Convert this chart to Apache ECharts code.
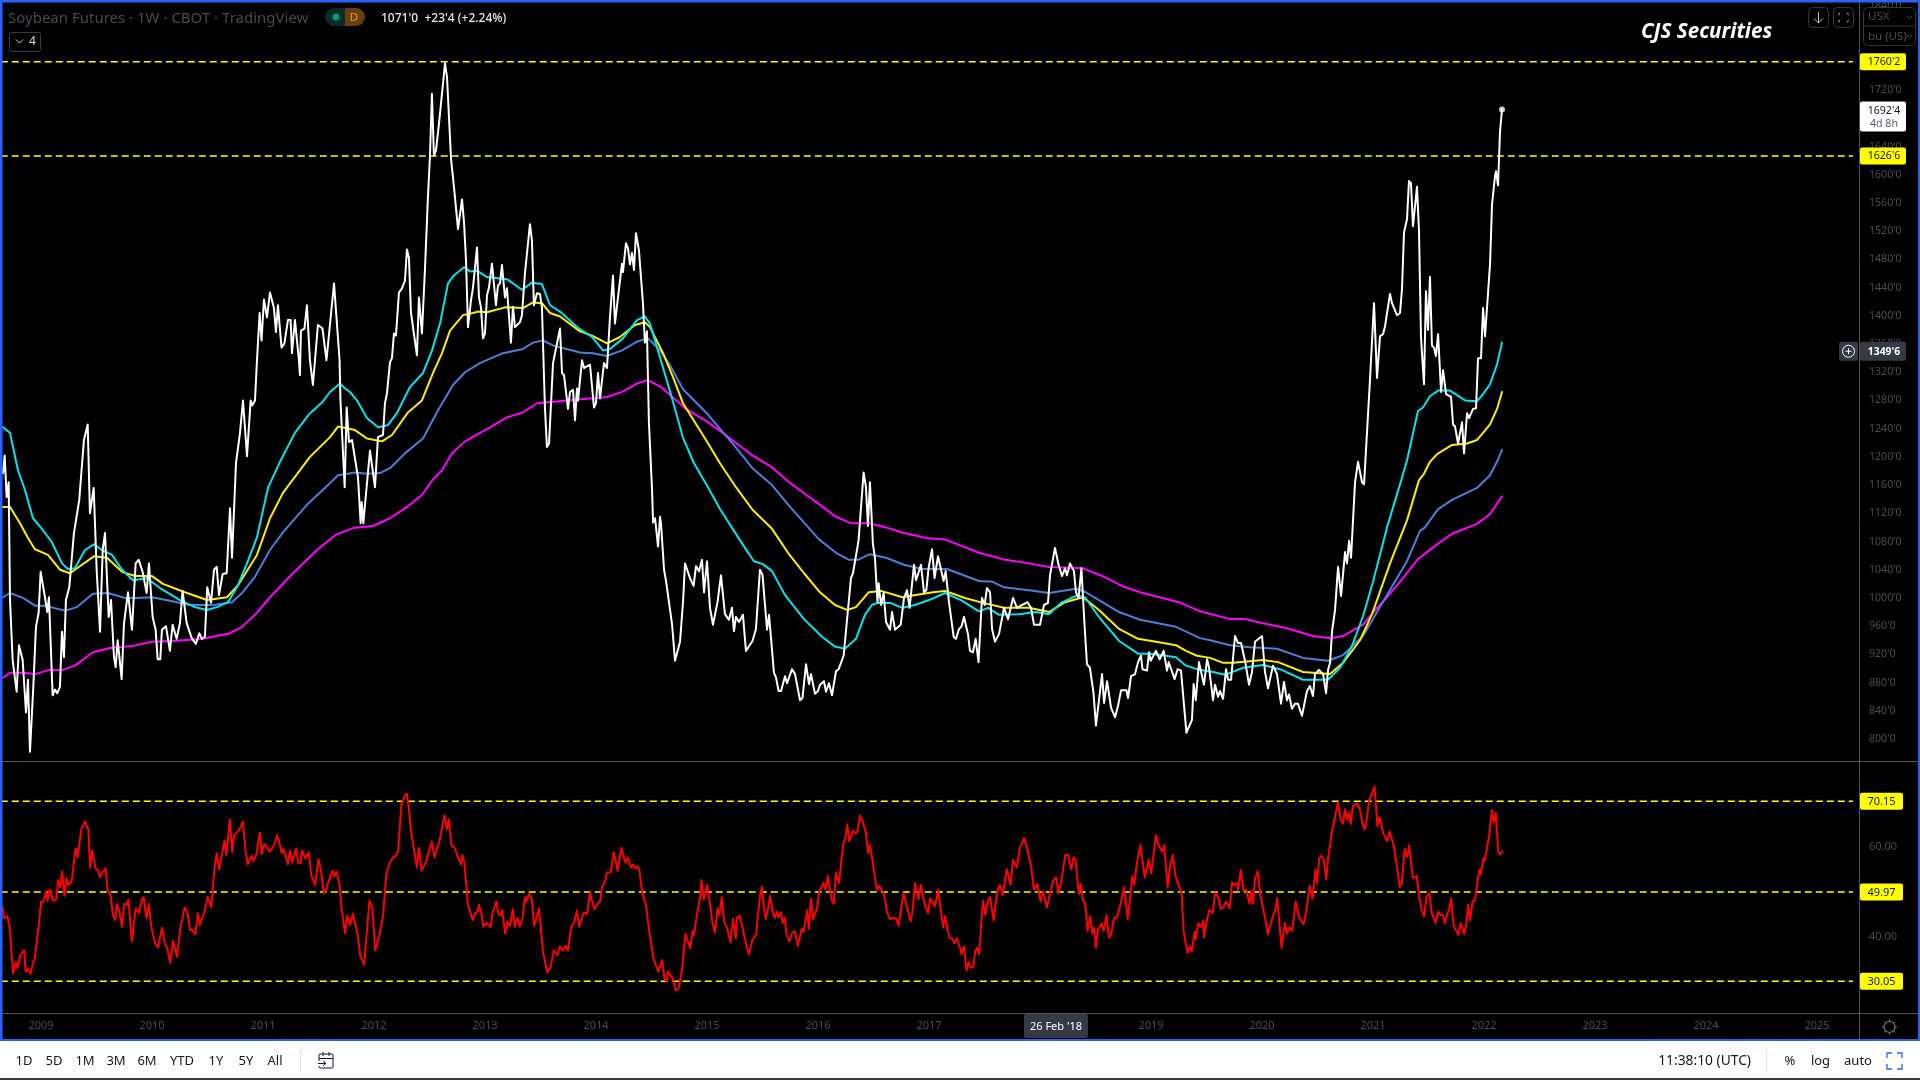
<!DOCTYPE html>
<html><head><meta charset="utf-8"><title>Soybean Futures</title>
<style>html,body{margin:0;padding:0;background:#000;overflow:hidden}#c{width:1920px;height:1080px}</style>
<script src="https://cdn.jsdelivr.net/npm/echarts@6/dist/echarts.min.js"></script></head><body><div id="c"></div>
<script>
const yearTicks=[2009,2010,2011,2012,2013,2014,2015,2016,2017,2018,2019,2020,2021,2022,2023,2024,2025];
const priceTicks=[800,840,880,920,960,1000,1040,1080,1120,1160,1200,1240,1280,1320,1360,1400,1440,1480,1520,1560,1600,1640,1680,1720,1760,1800,1840];
const rsiTicks=[40,60];
const priceLevels=[1760.25,1626.75];
const rsiLevels=[70.15,49.97,30.05];
const close=[[2008.658,1177],[2008.673,1202],[2008.691,1143],[2008.709,1164],[2008.721,997],[2008.745,912],[2008.781,867],[2008.802,933],[2008.835,912],[2008.865,838],[2008.883,884],[2008.901,782],[2008.931,874],[2008.955,959],[2008.979,979],[2008.997,1037],[2009.036,1001],[2009.057,980],[2009.072,1001],[2009.105,862],[2009.126,870],[2009.147,865],[2009.171,874],[2009.189,952],[2009.207,916],[2009.225,997],[2009.255,1015],[2009.297,1092],[2009.345,1139],[2009.387,1224],[2009.421,1246],[2009.441,1120],[2009.475,1156],[2009.502,1039],[2009.532,952],[2009.556,1068],[2009.577,1092],[2009.610,973],[2009.631,997],[2009.658,916],[2009.673,902],[2009.691,940],[2009.727,885],[2009.748,964],[2009.784,1008],[2009.820,955],[2009.853,1049],[2009.880,1054],[2009.916,1037],[2009.952,1007],[2009.973,1049],[2010.006,973],[2010.033,955],[2010.051,913],[2010.075,913],[2010.090,955],[2010.126,960],[2010.162,925],[2010.186,962],[2010.222,942],[2010.252,964],[2010.276,1010],[2010.313,964],[2010.358,943],[2010.396,935],[2010.426,950],[2010.450,942],[2010.477,945],[2010.498,1015],[2010.532,993],[2010.559,1040],[2010.583,1044],[2010.604,1004],[2010.637,1034],[2010.673,1035],[2010.703,1127],[2010.721,1057],[2010.757,1191],[2010.793,1234],[2010.820,1280],[2010.856,1201],[2010.889,1280],[2010.904,1273],[2010.928,1280],[2010.946,1337],[2010.970,1404],[2010.987,1365],[2011.009,1423],[2011.036,1398],[2011.063,1433],[2011.099,1411],[2011.117,1377],[2011.135,1415],[2011.167,1355],[2011.193,1361],[2011.225,1394],[2011.249,1394],[2011.261,1347],[2011.288,1394],[2011.297,1396],[2011.324,1337],[2011.333,1316],[2011.342,1379],[2011.374,1382],[2011.396,1415],[2011.423,1337],[2011.450,1302],[2011.495,1387],[2011.536,1382],[2011.572,1337],[2011.640,1446],[2011.690,1337],[2011.698,1280],[2011.736,1157],[2011.754,1270],[2011.775,1221],[2011.802,1224],[2011.856,1171],[2011.880,1106],[2011.889,1136],[2011.904,1106],[2011.964,1209],[2012.009,1157],[2012.036,1228],[2012.054,1227],[2012.081,1231],[2012.099,1276],[2012.117,1290],[2012.144,1334],[2012.162,1340],[2012.180,1375],[2012.198,1372],[2012.225,1433],[2012.252,1439],[2012.279,1450],[2012.297,1494],[2012.315,1482],[2012.333,1405],[2012.351,1405],[2012.387,1344],[2012.405,1426],[2012.432,1375],[2012.459,1465],[2012.486,1568],[2012.504,1625],[2012.522,1715],[2012.540,1627],[2012.558,1634],[2012.586,1673],[2012.595,1674],[2012.640,1758],[2012.658,1738],[2012.676,1738],[2012.694,1623],[2012.721,1582],[2012.757,1523],[2012.793,1565],[2012.811,1533],[2012.829,1479],[2012.847,1384],[2012.874,1422],[2012.892,1440],[2012.928,1497],[2012.946,1426],[2012.964,1412],[2012.982,1368],[2013.000,1375],[2013.018,1429],[2013.036,1440],[2013.063,1474],[2013.099,1415],[2013.117,1443],[2013.135,1446],[2013.153,1472],[2013.180,1426],[2013.198,1439],[2013.234,1362],[2013.252,1413],[2013.270,1384],[2013.288,1382],[2013.315,1391],[2013.333,1401],[2013.360,1460],[2013.405,1530],[2013.423,1507],[2013.441,1415],[2013.468,1432],[2013.495,1431],[2013.513,1412],[2013.540,1270],[2013.558,1214],[2013.577,1219],[2013.613,1333],[2013.640,1354],[2013.676,1382],[2013.694,1319],[2013.712,1316],[2013.748,1268],[2013.766,1292],[2013.793,1295],[2013.811,1252],[2013.829,1297],[2013.838,1280],[2013.874,1337],[2013.892,1326],[2013.946,1331],[2013.982,1270],[2014.000,1276],[2014.018,1319],[2014.036,1283],[2014.054,1283],[2014.072,1333],[2014.099,1326],[2014.126,1398],[2014.153,1457],[2014.171,1389],[2014.234,1474],[2014.243,1462],[2014.270,1503],[2014.288,1496],[2014.306,1473],[2014.324,1489],[2014.342,1465],[2014.360,1517],[2014.387,1493],[2014.423,1418],[2014.441,1362],[2014.459,1378],[2014.477,1248],[2014.505,1153],[2014.514,1107],[2014.532,1113],[2014.559,1073],[2014.577,1115],[2014.586,1105],[2014.613,1040],[2014.631,1024],[2014.649,1023],[2014.685,963],[2014.712,911],[2014.730,913],[2014.757,938],[2014.784,994],[2014.802,1049],[2014.847,1028],[2014.879,1017],[2014.901,1045],[2014.928,1038],[2014.955,1054],[2014.973,1008],[2015.000,1052],[2015.027,986],[2015.054,962],[2015.095,994],[2015.126,1032],[2015.162,977],[2015.198,969],[2015.225,986],[2015.243,953],[2015.261,973],[2015.288,966],[2015.324,976],[2015.351,925],[2015.410,939],[2015.441,956],[2015.477,1040],[2015.500,1033],[2015.541,955],[2015.559,976],[2015.603,894],[2015.622,887],[2015.645,868],[2015.667,868],[2015.703,889],[2015.721,879],[2015.766,899],[2015.793,892],[2015.838,855],[2015.860,858],[2015.892,906],[2015.919,878],[2015.937,892],[2015.973,864],[2016.000,868],[2016.018,877],[2016.054,882],[2016.072,867],[2016.099,879],[2016.126,862],[2016.162,896],[2016.186,899],[2016.231,918],[2016.243,918],[2016.297,1028],[2016.315,1035],[2016.365,1081],[2016.411,1178],[2016.432,1157],[2016.450,1102],[2016.468,1164],[2016.495,1076],[2016.513,1057],[2016.536,994],[2016.546,1021],[2016.568,990],[2016.591,1007],[2016.613,966],[2016.649,955],[2016.667,980],[2016.694,955],[2016.745,962],[2016.775,1000],[2016.802,1011],[2016.825,986],[2016.865,1047],[2016.883,1025],[2016.928,1047],[2016.955,1008],[2016.976,1011],[2016.996,1042],[2017.027,1069],[2017.050,1028],[2017.081,1059],[2017.131,1024],[2017.150,1038],[2017.180,994],[2017.222,945],[2017.243,942],[2017.270,956],[2017.292,959],[2017.315,973],[2017.351,949],[2017.369,925],[2017.396,923],[2017.420,942],[2017.446,909],[2017.477,1000],[2017.501,990],[2017.522,1014],[2017.550,1008],[2017.568,956],[2017.595,938],[2017.631,949],[2017.676,986],[2017.712,970],[2017.757,1000],[2017.793,986],[2017.838,990],[2017.887,994],[2017.919,986],[2017.946,962],[2017.964,963],[2018.000,962],[2018.036,990],[2018.072,993],[2018.090,1032],[2018.135,1071],[2018.167,1047],[2018.198,1031],[2018.225,1042],[2018.243,1032],[2018.270,1049],[2018.306,1038],[2018.324,1008],[2018.347,1000],[2018.373,1042],[2018.401,962],[2018.423,906],[2018.450,901],[2018.482,865],[2018.504,819],[2018.559,892],[2018.577,851],[2018.604,882],[2018.640,844],[2018.676,831],[2018.703,847],[2018.730,869],[2018.779,869],[2018.793,858],[2018.820,889],[2018.856,892],[2018.883,909],[2018.910,918],[2018.923,899],[2018.964,897],[2018.982,923],[2018.997,911],[2019.045,925],[2019.078,913],[2019.114,925],[2019.144,897],[2019.159,909],[2019.213,885],[2019.239,899],[2019.270,897],[2019.319,809],[2019.369,827],[2019.384,878],[2019.403,855],[2019.432,909],[2019.477,877],[2019.505,913],[2019.523,901],[2019.559,855],[2019.577,877],[2019.604,860],[2019.622,868],[2019.649,857],[2019.676,899],[2019.694,884],[2019.721,884],[2019.757,946],[2019.784,936],[2019.811,936],[2019.847,911],[2019.883,877],[2019.910,895],[2019.937,938],[2020.000,946],[2020.027,895],[2020.054,872],[2020.099,904],[2020.135,892],[2020.171,850],[2020.198,881],[2020.225,855],[2020.243,863],[2020.270,843],[2020.297,850],[2020.324,850],[2020.360,833],[2020.405,868],[2020.432,875],[2020.459,861],[2020.477,892],[2020.513,898],[2020.550,892],[2020.577,865],[2020.595,898],[2020.613,908],[2020.631,953],[2020.658,983],[2020.685,1044],[2020.712,1003],[2020.748,1065],[2020.766,1049],[2020.784,1081],[2020.802,1057],[2020.838,1164],[2020.865,1193],[2020.883,1193],[2020.901,1164],[2020.919,1161],[2020.973,1310],[2021.009,1418],[2021.036,1312],[2021.063,1371],[2021.090,1374],[2021.108,1385],[2021.153,1431],[2021.171,1418],[2021.189,1418],[2021.216,1401],[2021.243,1404],[2021.261,1438],[2021.279,1518],[2021.306,1537],[2021.324,1591],[2021.342,1588],[2021.360,1527],[2021.378,1528],[2021.396,1583],[2021.414,1521],[2021.432,1371],[2021.441,1347],[2021.459,1303],[2021.477,1435],[2021.495,1380],[2021.513,1455],[2021.531,1358],[2021.549,1355],[2021.567,1343],[2021.586,1374],[2021.613,1292],[2021.631,1323],[2021.658,1289],[2021.703,1285],[2021.721,1246],[2021.739,1243],[2021.766,1219],[2021.802,1249],[2021.820,1205],[2021.847,1262],[2021.865,1255],[2021.901,1268],[2021.928,1269],[2021.946,1340],[2021.973,1340],[2021.991,1411],[2022.009,1371],[2022.054,1473],[2022.072,1558],[2022.099,1598],[2022.108,1605],[2022.126,1585],[2022.144,1661],[2022.162,1692.5]];
const maCyan=[[2008.658,1242],[2008.721,1234],[2008.793,1181],[2008.856,1153],[2008.928,1113],[2009.018,1096],[2009.099,1079],[2009.189,1049],[2009.243,1041],[2009.306,1042],[2009.396,1068],[2009.477,1076],[2009.550,1068],[2009.640,1061],[2009.730,1040],[2009.829,1025],[2009.955,1028],[2010.072,1014],[2010.252,997],[2010.387,987],[2010.495,983],[2010.586,987],[2010.685,994],[2010.775,1018],[2010.856,1049],[2010.946,1086],[2011.045,1156],[2011.153,1193],[2011.288,1234],[2011.423,1262],[2011.532,1277],[2011.604,1292],[2011.694,1304],[2011.739,1297],[2011.784,1292],[2011.847,1280],[2011.937,1255],[2012.036,1242],[2012.126,1245],[2012.207,1262],[2012.324,1299],[2012.442,1319],[2012.523,1351],[2012.595,1389],[2012.667,1446],[2012.712,1456],[2012.811,1469],[2012.865,1463],[2012.928,1464],[2013.018,1455],[2013.198,1452],[2013.333,1437],[2013.423,1447],[2013.513,1445],[2013.586,1415],[2013.676,1406],[2013.829,1384],[2013.964,1370],[2014.063,1351],[2014.126,1353],[2014.243,1368],[2014.369,1394],[2014.441,1399],[2014.486,1389],[2014.577,1341],[2014.685,1283],[2014.784,1227],[2014.883,1191],[2015.009,1157],[2015.117,1126],[2015.252,1093],[2015.342,1071],[2015.423,1052],[2015.504,1048],[2015.586,1038],[2015.703,1004],[2015.874,970],[2016.036,945],[2016.153,931],[2016.243,928],[2016.342,942],[2016.423,976],[2016.486,990],[2016.536,993],[2016.649,993],[2016.761,986],[2016.874,990],[2017.000,997],[2017.144,1007],[2017.288,997],[2017.450,981],[2017.532,986],[2017.631,976],[2017.811,977],[2017.964,980],[2018.081,977],[2018.189,993],[2018.324,1003],[2018.405,1001],[2018.531,973],[2018.712,939],[2018.883,921],[2019.000,921],[2019.225,916],[2019.315,904],[2019.414,899],[2019.559,895],[2019.667,891],[2019.829,901],[2020.009,905],[2020.162,899],[2020.369,884],[2020.595,884],[2020.703,901],[2020.811,932],[2020.910,974],[2021.000,1023],[2021.126,1100],[2021.243,1161],[2021.306,1195],[2021.405,1265],[2021.450,1270],[2021.513,1286],[2021.586,1294],[2021.694,1294],[2021.829,1280],[2021.937,1279],[2021.991,1289],[2022.054,1303],[2022.117,1331],[2022.162,1362]];
const maYellow=[[2008.658,1129],[2008.721,1129],[2008.811,1106],[2008.883,1085],[2008.946,1069],[2009.063,1061],[2009.171,1040],[2009.261,1035],[2009.369,1047],[2009.477,1059],[2009.595,1057],[2009.730,1037],[2009.847,1031],[2010.000,1031],[2010.099,1020],[2010.297,1008],[2010.495,997],[2010.676,1001],[2010.775,1018],[2010.946,1061],[2011.063,1113],[2011.180,1149],[2011.423,1200],[2011.604,1228],[2011.676,1243],[2011.829,1238],[2011.937,1226],[2012.072,1222],[2012.162,1231],[2012.306,1263],[2012.432,1280],[2012.532,1319],[2012.613,1347],[2012.685,1379],[2012.802,1401],[2012.892,1404],[2012.937,1406],[2013.018,1405],[2013.180,1412],[2013.342,1411],[2013.432,1419],[2013.513,1418],[2013.586,1404],[2013.676,1399],[2013.856,1378],[2013.964,1372],[2014.099,1361],[2014.216,1370],[2014.351,1387],[2014.441,1391],[2014.486,1384],[2014.604,1347],[2014.694,1313],[2014.784,1276],[2014.991,1224],[2015.117,1191],[2015.261,1157],[2015.410,1125],[2015.586,1098],[2015.730,1064],[2015.874,1035],[2016.018,1008],[2016.153,990],[2016.261,983],[2016.342,987],[2016.456,1008],[2016.568,1010],[2016.761,1001],[2016.838,1003],[2017.036,1008],[2017.144,1010],[2017.324,1000],[2017.486,993],[2017.676,986],[2017.901,986],[2018.081,980],[2018.225,994],[2018.387,1001],[2018.531,983],[2018.712,956],[2018.883,942],[2019.045,938],[2019.225,933],[2019.315,925],[2019.414,918],[2019.532,915],[2019.649,908],[2019.739,908],[2020.009,912],[2020.144,909],[2020.369,895],[2020.613,892],[2020.730,908],[2020.883,940],[2020.991,977],[2021.153,1049],[2021.306,1110],[2021.414,1167],[2021.459,1176],[2021.513,1193],[2021.577,1204],[2021.712,1217],[2021.847,1219],[2021.937,1224],[2021.991,1234],[2022.054,1246],[2022.117,1268],[2022.162,1292]];
const maBlue=[[2008.658,1001],[2008.721,1007],[2008.838,1000],[2008.946,989],[2009.036,989],[2009.216,982],[2009.324,987],[2009.468,1006],[2009.604,1007],[2009.757,1000],[2009.847,1000],[2010.000,1001],[2010.162,996],[2010.342,990],[2010.550,990],[2010.721,994],[2010.811,1007],[2010.928,1030],[2011.063,1068],[2011.180,1093],[2011.396,1132],[2011.586,1160],[2011.676,1174],[2011.829,1178],[2011.937,1176],[2012.054,1177],[2012.144,1184],[2012.279,1205],[2012.441,1226],[2012.577,1266],[2012.712,1302],[2012.820,1320],[2012.955,1333],[2013.162,1347],[2013.342,1353],[2013.432,1362],[2013.523,1365],[2013.613,1358],[2013.856,1348],[2013.973,1347],[2014.099,1343],[2014.234,1351],[2014.378,1364],[2014.468,1368],[2014.577,1351],[2014.667,1330],[2014.784,1296],[2015.009,1260],[2015.252,1215],[2015.410,1184],[2015.586,1160],[2015.748,1129],[2016.009,1083],[2016.162,1064],[2016.279,1054],[2016.360,1054],[2016.468,1062],[2016.613,1057],[2016.775,1047],[2016.937,1041],[2017.162,1041],[2017.450,1024],[2017.568,1023],[2017.676,1015],[2017.901,1011],[2018.081,1007],[2018.324,1013],[2018.414,1008],[2018.712,980],[2018.901,969],[2019.225,959],[2019.441,943],[2019.532,940],[2019.712,933],[2019.892,930],[2020.135,928],[2020.369,915],[2020.595,911],[2020.730,919],[2020.910,946],[2021.126,1004],[2021.306,1052],[2021.423,1095],[2021.468,1100],[2021.586,1126],[2021.712,1139],[2021.937,1156],[2022.054,1174],[2022.117,1193],[2022.162,1210]];
const maMagenta=[[2008.658,887],[2008.721,894],[2008.838,894],[2008.946,892],[2009.081,898],[2009.198,898],[2009.306,904],[2009.468,923],[2009.622,929],[2009.829,932],[2010.000,938],[2010.189,939],[2010.459,942],[2010.703,950],[2010.811,959],[2010.946,979],[2011.063,1001],[2011.270,1035],[2011.486,1068],[2011.649,1089],[2011.811,1099],[2011.991,1102],[2012.144,1113],[2012.297,1129],[2012.432,1146],[2012.532,1168],[2012.613,1181],[2012.703,1205],[2012.820,1222],[2013.045,1242],[2013.198,1256],[2013.342,1263],[2013.468,1276],[2013.739,1280],[2014.099,1285],[2014.234,1292],[2014.369,1304],[2014.468,1309],[2014.586,1299],[2014.811,1268],[2014.991,1251],[2015.185,1229],[2015.410,1202],[2015.586,1185],[2015.748,1163],[2016.018,1132],[2016.162,1115],[2016.297,1106],[2016.459,1106],[2016.613,1100],[2016.775,1092],[2016.973,1085],[2017.144,1083],[2017.450,1064],[2017.662,1055],[2017.901,1049],[2018.081,1044],[2018.387,1042],[2018.577,1030],[2018.739,1017],[2018.901,1008],[2019.252,994],[2019.441,981],[2019.712,970],[2019.847,970],[2020.009,964],[2020.225,957],[2020.459,946],[2020.613,943],[2020.730,946],[2020.910,962],[2021.036,986],[2021.126,1001],[2021.270,1028],[2021.405,1055],[2021.486,1065],[2021.577,1076],[2021.712,1091],[2021.937,1105],[2022.054,1119],[2022.162,1144]];
const rsi=[[2008.658,46.5],[2008.666,44.1],[2008.697,44.6],[2008.718,42.2],[2008.749,31.8],[2008.775,34.4],[2008.788,33.0],[2008.814,35.9],[2008.849,37.0],[2008.862,32.2],[2008.884,32.8],[2008.906,31.7],[2008.928,34.1],[2008.945,35.2],[2008.980,42.6],[2009.002,47.8],[2009.024,47.8],[2009.046,50.0],[2009.059,48.0],[2009.076,50.5],[2009.111,48.0],[2009.138,48.3],[2009.155,52.6],[2009.173,51.0],[2009.190,54.5],[2009.212,49.1],[2009.229,53.0],[2009.247,51.5],[2009.277,52.3],[2009.295,52.3],[2009.312,59.7],[2009.330,57.7],[2009.365,64.1],[2009.395,65.6],[2009.426,64.1],[2009.443,55.4],[2009.461,59.2],[2009.491,55.2],[2009.513,54.9],[2009.531,53.2],[2009.557,54.5],[2009.583,55.2],[2009.600,50.4],[2009.627,49.3],[2009.648,44.8],[2009.670,43.7],[2009.683,47.3],[2009.710,45.2],[2009.731,42.2],[2009.749,47.3],[2009.775,47.1],[2009.788,48.3],[2009.819,38.9],[2009.854,46.3],[2009.884,45.2],[2009.906,48.2],[2009.924,48.8],[2009.950,44.1],[2009.972,47.3],[2009.993,42.2],[2010.028,38.5],[2010.055,37.6],[2010.090,42.0],[2010.116,38.5],[2010.138,37.4],[2010.164,34.2],[2010.190,39.1],[2010.225,35.5],[2010.255,41.9],[2010.295,46.5],[2010.321,45.2],[2010.343,41.5],[2010.365,41.5],[2010.391,40.5],[2010.413,45.2],[2010.430,42.6],[2010.448,42.4],[2010.474,45.6],[2010.500,48.9],[2010.518,49.1],[2010.535,46.5],[2010.561,54.9],[2010.583,58.6],[2010.605,55.0],[2010.653,61.4],[2010.670,58.2],[2010.701,66.1],[2010.723,58.9],[2010.740,62.6],[2010.771,63.4],[2010.793,64.1],[2010.810,63.8],[2010.819,65.6],[2010.845,58.9],[2010.863,56.1],[2010.876,56.1],[2010.897,58.0],[2010.915,56.9],[2010.937,58.0],[2010.954,58.2],[2010.972,63.2],[2010.989,58.4],[2011.011,60.6],[2011.033,60.2],[2011.059,58.9],[2011.103,60.4],[2011.125,62.6],[2011.142,61.5],[2011.168,58.6],[2011.186,59.5],[2011.225,56.1],[2011.242,59.2],[2011.264,56.5],[2011.299,59.7],[2011.317,56.5],[2011.339,56.3],[2011.352,59.2],[2011.382,57.4],[2011.413,58.8],[2011.435,53.7],[2011.470,51.5],[2011.500,57.3],[2011.526,54.1],[2011.548,49.7],[2011.566,50.4],[2011.592,52.3],[2011.609,51.9],[2011.627,54.7],[2011.644,53.4],[2011.662,54.5],[2011.688,51.9],[2011.710,45.9],[2011.740,40.7],[2011.758,44.7],[2011.784,42.6],[2011.810,45.1],[2011.854,40.4],[2011.876,35.7],[2011.893,35.7],[2011.911,33.8],[2011.959,48.0],[2011.985,46.3],[2012.011,36.9],[2012.046,40.0],[2012.081,44.5],[2012.112,54.1],[2012.147,56.7],[2012.177,57.8],[2012.199,58.0],[2012.216,58.9],[2012.247,69.3],[2012.273,71.2],[2012.295,71.9],[2012.312,69.0],[2012.334,63.4],[2012.356,60.1],[2012.387,55.4],[2012.404,59.8],[2012.430,54.7],[2012.470,56.7],[2012.491,58.6],[2012.505,58.4],[2012.522,61.2],[2012.544,57.7],[2012.561,57.3],[2012.592,61.5],[2012.635,67.0],[2012.657,63.9],[2012.675,66.1],[2012.697,60.4],[2012.727,59.7],[2012.762,57.4],[2012.784,56.1],[2012.797,58.2],[2012.815,56.3],[2012.845,47.4],[2012.889,43.7],[2012.911,45.2],[2012.933,45.6],[2012.946,47.1],[2012.972,44.8],[2012.985,42.2],[2013.011,43.1],[2013.051,42.1],[2013.068,45.2],[2013.085,45.6],[2013.103,47.8],[2013.120,45.1],[2013.142,44.7],[2013.155,45.9],[2013.181,40.7],[2013.203,43.3],[2013.225,42.4],[2013.251,46.1],[2013.269,42.2],[2013.291,44.1],[2013.312,42.2],[2013.339,44.1],[2013.360,48.8],[2013.373,47.8],[2013.395,49.5],[2013.421,48.5],[2013.443,42.4],[2013.487,46.3],[2013.522,36.7],[2013.561,32.0],[2013.592,33.2],[2013.618,36.9],[2013.653,35.9],[2013.675,37.8],[2013.705,36.9],[2013.727,37.9],[2013.749,36.9],[2013.775,42.0],[2013.801,43.0],[2013.828,45.8],[2013.850,42.2],[2013.863,42.6],[2013.889,45.4],[2013.920,45.1],[2013.946,49.8],[2013.963,49.5],[2013.985,46.1],[2014.015,47.4],[2014.037,47.8],[2014.055,51.1],[2014.081,52.3],[2014.098,54.3],[2014.133,54.3],[2014.160,58.8],[2014.195,54.7],[2014.229,59.8],[2014.265,56.5],[2014.286,57.6],[2014.313,55.4],[2014.334,56.0],[2014.352,55.2],[2014.374,55.7],[2014.391,54.9],[2014.417,49.7],[2014.448,47.3],[2014.465,47.1],[2014.483,40.7],[2014.518,35.2],[2014.535,35.0],[2014.561,32.2],[2014.596,34.8],[2014.618,30.6],[2014.635,30.0],[2014.649,32.2],[2014.692,30.6],[2014.719,28.0],[2014.745,28.6],[2014.775,32.6],[2014.788,33.0],[2014.806,40.6],[2014.823,40.7],[2014.849,37.4],[2014.871,41.3],[2014.884,40.4],[2014.911,45.2],[2014.937,48.5],[2014.950,52.6],[2014.972,48.3],[2015.002,51.5],[2015.024,47.8],[2015.050,43.0],[2015.072,40.9],[2015.094,46.3],[2015.111,44.7],[2015.133,48.8],[2015.155,43.3],[2015.181,41.9],[2015.195,42.2],[2015.212,38.7],[2015.234,43.9],[2015.260,39.6],[2015.269,44.1],[2015.291,44.7],[2015.312,42.8],[2015.330,43.0],[2015.365,37.0],[2015.378,36.1],[2015.409,39.3],[2015.443,40.4],[2015.461,45.2],[2015.478,49.3],[2015.495,51.1],[2015.512,46.7],[2015.529,43.9],[2015.551,46.3],[2015.569,49.1],[2015.591,45.6],[2015.608,44.2],[2015.630,45.6],[2015.643,44.3],[2015.665,45.4],[2015.682,43.0],[2015.700,44.3],[2015.717,40.4],[2015.743,38.9],[2015.765,40.7],[2015.791,41.3],[2015.818,37.9],[2015.853,41.7],[2015.870,41.1],[2015.901,45.8],[2015.918,41.7],[2015.936,48.5],[2015.957,43.9],[2015.975,44.1],[2015.992,46.3],[2016.010,49.8],[2016.049,52.0],[2016.067,50.5],[2016.088,53.5],[2016.106,53.1],[2016.123,48.2],[2016.141,47.3],[2016.163,54.3],[2016.189,51.9],[2016.228,60.8],[2016.246,61.9],[2016.263,65.0],[2016.281,61.3],[2016.298,61.5],[2016.315,63.6],[2016.342,63.0],[2016.359,63.6],[2016.377,67.0],[2016.403,65.6],[2016.429,63.4],[2016.451,58.7],[2016.468,60.4],[2016.490,57.1],[2016.516,52.6],[2016.534,50.4],[2016.551,51.3],[2016.586,50.0],[2016.604,48.2],[2016.621,45.6],[2016.647,43.9],[2016.682,44.2],[2016.708,43.9],[2016.726,42.4],[2016.743,42.6],[2016.770,49.7],[2016.800,46.7],[2016.835,43.4],[2016.853,45.9],[2016.874,51.9],[2016.905,48.3],[2016.927,51.5],[2016.962,47.1],[2016.992,45.2],[2017.010,48.5],[2017.027,48.5],[2017.053,46.7],[2017.084,50.4],[2017.106,45.9],[2017.128,42.0],[2017.145,44.6],[2017.171,41.1],[2017.189,39.6],[2017.211,39.6],[2017.228,38.5],[2017.250,39.6],[2017.276,37.8],[2017.294,36.1],[2017.316,37.8],[2017.337,32.4],[2017.355,34.3],[2017.372,33.2],[2017.399,33.2],[2017.416,36.7],[2017.433,37.5],[2017.451,36.1],[2017.486,48.0],[2017.508,44.8],[2017.530,48.0],[2017.551,48.8],[2017.582,43.6],[2017.617,50.4],[2017.639,51.5],[2017.665,49.3],[2017.700,55.0],[2017.735,51.5],[2017.757,57.1],[2017.791,55.4],[2017.818,59.7],[2017.857,61.9],[2017.888,59.3],[2017.923,55.2],[2017.944,50.5],[2017.975,51.7],[2018.005,47.8],[2018.027,50.2],[2018.062,46.5],[2018.088,49.3],[2018.119,52.4],[2018.145,53.2],[2018.167,49.7],[2018.193,52.6],[2018.228,58.2],[2018.254,58.2],[2018.281,55.0],[2018.302,57.7],[2018.320,57.1],[2018.350,49.5],[2018.368,51.7],[2018.385,48.2],[2018.407,47.4],[2018.429,41.3],[2018.451,44.5],[2018.473,40.7],[2018.486,42.0],[2018.503,37.5],[2018.521,41.5],[2018.538,41.5],[2018.556,43.0],[2018.573,41.3],[2018.599,44.8],[2018.621,39.8],[2018.639,40.4],[2018.669,44.3],[2018.691,44.1],[2018.717,46.3],[2018.735,46.7],[2018.757,51.0],[2018.791,43.9],[2018.831,53.4],[2018.848,51.5],[2018.875,56.7],[2018.905,60.4],[2018.944,53.2],[2018.979,57.1],[2019.001,54.1],[2019.045,62.6],[2019.067,60.4],[2019.102,58.9],[2019.119,60.4],[2019.150,50.9],[2019.176,56.3],[2019.198,58.2],[2019.219,53.7],[2019.241,52.1],[2019.259,52.1],[2019.276,49.7],[2019.294,41.1],[2019.329,36.4],[2019.351,37.9],[2019.368,36.7],[2019.394,41.1],[2019.403,39.4],[2019.425,43.0],[2019.451,42.2],[2019.473,43.6],[2019.477,39.8],[2019.504,43.7],[2019.525,45.9],[2019.556,45.3],[2019.578,49.7],[2019.604,48.9],[2019.630,46.1],[2019.652,46.5],[2019.674,47.8],[2019.709,46.3],[2019.730,52.1],[2019.752,51.5],[2019.779,51.9],[2019.783,50.4],[2019.809,54.9],[2019.831,50.4],[2019.857,50.4],[2019.888,47.4],[2019.901,50.2],[2019.918,47.3],[2019.936,52.8],[2019.962,54.6],[2019.984,49.3],[2020.028,44.1],[2020.054,40.5],[2020.071,40.5],[2020.097,44.5],[2020.119,45.9],[2020.137,48.5],[2020.176,37.5],[2020.206,43.1],[2020.224,40.7],[2020.250,42.1],[2020.272,41.3],[2020.303,47.8],[2020.320,48.0],[2020.338,44.1],[2020.355,43.9],[2020.377,42.8],[2020.407,47.1],[2020.429,51.3],[2020.455,48.5],[2020.481,55.0],[2020.495,51.9],[2020.516,57.5],[2020.534,58.0],[2020.556,57.2],[2020.578,52.8],[2020.595,57.3],[2020.613,57.3],[2020.630,63.4],[2020.648,63.8],[2020.683,69.9],[2020.709,66.0],[2020.730,65.2],[2020.748,68.4],[2020.765,66.1],[2020.783,67.6],[2020.800,65.1],[2020.818,69.0],[2020.835,68.6],[2020.857,69.7],[2020.883,68.2],[2020.905,65.2],[2020.923,63.9],[2020.936,64.9],[2020.966,70.4],[2020.979,70.8],[2021.014,73.4],[2021.040,64.6],[2021.058,66.6],[2021.093,63.0],[2021.110,63.0],[2021.128,61.3],[2021.150,63.4],[2021.185,60.4],[2021.211,56.3],[2021.241,51.1],[2021.259,51.7],[2021.285,59.5],[2021.307,57.8],[2021.324,60.3],[2021.359,53.1],[2021.394,53.5],[2021.416,48.9],[2021.434,46.5],[2021.460,44.5],[2021.481,48.8],[2021.508,49.7],[2021.530,45.1],[2021.565,43.1],[2021.587,45.6],[2021.608,44.8],[2021.630,44.8],[2021.648,43.0],[2021.669,45.2],[2021.683,45.8],[2021.704,48.5],[2021.726,42.4],[2021.744,42.4],[2021.770,40.4],[2021.788,43.0],[2021.801,43.3],[2021.822,40.6],[2021.840,42.6],[2021.857,47.1],[2021.875,43.6],[2021.897,48.0],[2021.918,48.0],[2021.944,52.8],[2021.958,54.9],[2021.971,53.9],[2021.993,57.4],[2022.006,56.9],[2022.049,62.8],[2022.071,68.2],[2022.088,65.4],[2022.106,67.6],[2022.128,58.9],[2022.145,58.4],[2022.167,59.0]];
const lastClose=[2022.162,1692.5];
const xStart=2008.658, xEnd=2025.378, levelEnd=2025.324;

const FONT='"Noto Sans"', DIM='#4d4d4d', SEP='#555555', BLUE='#2962ff';
const chart=echarts.init(document.getElementById('c'),null,{renderer:'canvas',width:1920,height:1080});

function lineSeries(name,data,color,width,xi,z){
  return {name,type:'line',xAxisIndex:xi,yAxisIndex:xi,data,symbol:'none',smooth:false,z,silent:true,animation:false,
    lineStyle:{color,width,join:'round',cap:'round'}};
}
function levelSeries(v,xi){
  return {type:'line',xAxisIndex:xi,yAxisIndex:xi,data:[[xStart-0.02,v],[levelEnd,v]],symbol:'none',z:1,silent:true,animation:false,
    lineStyle:{color:'#ffff00',width:1.5,type:[7,4]}};
}
const option={
  backgroundColor:'#000',animation:false,
  grid:[{left:3,top:3,width:1856,height:758},{left:3,top:761,width:1856,height:252}],
  xAxis:[
    {type:'value',gridIndex:0,min:xStart,max:xEnd,axisLine:{show:false},axisTick:{show:false},axisLabel:{show:false},splitLine:{show:false}},
    {type:'value',gridIndex:1,min:xStart,max:xEnd,axisLine:{show:false},axisTick:{show:false},splitLine:{show:false},
     axisLabel:{customValues:yearTicks,formatter:v=>String(Math.round(v)),color:DIM,fontFamily:FONT,fontSize:11,margin:7,hideOverlap:false}}
  ],
  yAxis:[
    {type:'value',gridIndex:0,position:'right',min:768.8,max:1842.6,axisLine:{show:false},axisTick:{show:false},splitLine:{show:false},
     axisLabel:{customValues:priceTicks,formatter:v=>Math.round(v)+"'0",color:DIM,fontFamily:FONT,fontSize:10.6,margin:10,hideOverlap:false}},
    {type:'value',gridIndex:1,position:'right',min:22.99,max:79.13,axisLine:{show:false},axisTick:{show:false},splitLine:{show:false},
     axisLabel:{customValues:rsiTicks,formatter:v=>v.toFixed(2),color:DIM,fontFamily:FONT,fontSize:11,margin:10}}
  ],
  series:[
    ...priceLevels.map(v=>levelSeries(v,0)),
    ...rsiLevels.map(v=>levelSeries(v,1)),
    lineSeries('EMA magenta',maMagenta,'#ff00ff',2,0,2),
    lineSeries('EMA blue',maBlue,'#4a80dc',2,0,3),
    lineSeries('EMA yellow',maYellow,'#ffee00',2,0,4),
    lineSeries('EMA cyan',maCyan,'#00e5ee',2,0,5),
    lineSeries('Close',close,'#ffffff',2,0,6),
    {type:'scatter',xAxisIndex:0,yAxisIndex:0,data:[lastClose],symbolSize:6,itemStyle:{color:'#fff'},z:7,silent:true},
    lineSeries('RSI',rsi,'#ff0000',2,1,6)
  ]
};
chart.setOption(option);

const rect=(x,y,w,h,fill,extra)=>Object.assign({type:'rect',shape:{x,y,width:w,height:h},style:{fill},z:100,silent:true},extra||{});
const rrect=(x,y,w,h,r,fill,stroke)=>({type:'rect',shape:{x,y,width:w,height:h,r},style:{fill:fill||'transparent',stroke:stroke||null,lineWidth:1},z:100,silent:true});
const text=(x,y,t,fill,size,opt)=>({type:'text',x,y,z:102,silent:true,style:Object.assign({text:t,fill,fontFamily:FONT,fontSize:size,textAlign:'left',textVerticalAlign:'middle'},opt||{})});
const ln=(x1,y1,x2,y2,c,w)=>({type:'line',shape:{x1,y1,x2,y2},style:{stroke:c,lineWidth:w||1},z:101,silent:true});
const py=(v,i)=>chart.convertToPixel({yAxisIndex:i},v);
const px=v=>chart.convertToPixel({xAxisIndex:0},v);

const els=[];
els.push(ln(2,761.5,1918,761.5,SEP),ln(2,1013.5,1918,1013.5,SEP),ln(1859.5,2,1859.5,1039,SEP));
[[priceLevels[0],"1760'2",0,46],[priceLevels[1],"1626'6",0,46],[rsiLevels[0],'70.15',1,43],[rsiLevels[1],'49.97',1,43],[rsiLevels[2],'30.05',1,43]].forEach(([v,t,i,w])=>{
  const y=py(v,i);
  els.push(rrect(1860,y-8.5,w,17,2,'#ffff00'));
  els.push(text(1860+w/2+(i?0:1),y+0.5,t,'#131722',i?11:10.6,{textAlign:'center'}));
});
const ly=py(lastClose[1],0);
els.push(rrect(1860,ly-8,46,30,2,'#ffffff'));
els.push(text(1884,ly+1,"1692'4",'#131722',10.6,{textAlign:'center'}));
els.push(text(1884,ly+14,'4d 8h','#5d606b',10.6,{textAlign:'center'}));
const cy=py(1349.75,0);
els.push(rrect(1839,cy-9.5,19,19,2,'#363a45'));
els.push({type:'circle',shape:{cx:1848.5,cy:cy,r:6},style:{fill:'transparent',stroke:'#fff',lineWidth:1},z:103,silent:true});
els.push(ln(1845.5,cy,1851.5,cy,'#fff'),ln(1848.5,cy-3,1848.5,cy+3,'#fff'));
els.push(rrect(1860,cy-9.5,46,19,2,'#363a45'));
els.push(text(1884,cy+1,"1349'6",'#ffffff',10.4,{textAlign:'center',fontWeight:'bold'}));
const dx=px(2018.144);
els.push(rrect(dx-32,1014,64,24,2,'#363a45'));
els.push(text(dx,1026.5,"26 Feb '18",'#ffffff',11,{textAlign:'center'}));
els.push(text(8,18.5,'Soybean Futures · 1W · CBOT · TradingView','#4a4a4a',15));
els.push(rrect(325,8,40,18,9,'#0b2b28'));
els.push({type:'rect',shape:{x:345,y:8,width:20,height:18,r:[0,9,9,0]},style:{fill:'#66400c'},z:100,silent:true});
els.push({type:'circle',shape:{cx:336,cy:17,r:3.5},style:{fill:'#089981'},z:101,silent:true});
els.push(text(354,17.5,'D','#ff9800',11.5,{textAlign:'center'}));
els.push(text(381,18.5,"1071'0  +23'4 (+2.24%)",'#e8e8e8',12,{fontWeight:500}));
els.push(rrect(9.5,32.5,31,19,2,'transparent','#3c3c3c'));
els.push({type:'polyline',shape:{points:[[16,39.5],[19.5,43],[23,39.5]]},style:{stroke:'#d0d0d0',fill:null,lineWidth:1},z:101,silent:true});
els.push(text(29,42,'4','#d8d8d8',12));
els.push(text(1641,32.5,'CJS Securities','#ffffff',20.6,{fontWeight:'bold',fontStyle:'italic'}));
els.push(rrect(1808.5,7.5,20,20,4,'transparent','#363636'));
els.push(ln(1818.5,12,1818.5,23,'#c4c4c4'));
els.push({type:'polyline',shape:{points:[[1814,18.5],[1818.5,23],[1823,18.5]]},style:{stroke:'#c4c4c4',fill:null,lineWidth:1},z:101,silent:true});
els.push(rrect(1833.5,7.5,20,20,4,'transparent','#363636'));
els.push(rrect(1838.5,12.5,10,10,3,'transparent','#c4c4c4'));
els.push(rect(1840,10,7,15,'#000',{z:101}),rect(1837,15,13,5,'#000',{z:101}));
els.push(rrect(1863.5,7.5,52,38,5,'#000','#363636'));
els.push(ln(1864,26,1915,26,'#363636'));
els.push(text(1868,17,'USX','#4d4d4d',11.5),text(1868,36.5,'bu (US)','#4d4d4d',11.5));
els.push({type:'polyline',shape:{points:[[1907,16],[1909.5,18.5],[1912,16]]},style:{stroke:'#4d4d4d',fill:null,lineWidth:1},z:103,silent:true});
els.push({type:'polyline',shape:{points:[[1907,35],[1909.5,37.5],[1912,35]]},style:{stroke:'#4d4d4d',fill:null,lineWidth:1},z:103,silent:true});
els.push({type:'circle',shape:{cx:1889.5,cy:1027,r:5.5},style:{fill:'transparent',stroke:'#7a7a7a',lineWidth:1.2},z:101,silent:true});
els.push(ln(1889.5,1019.5,1889.5,1021.5,'#7a7a7a'),ln(1889.5,1032.5,1889.5,1034.5,'#7a7a7a'),ln(1882,1027,1884,1027,'#7a7a7a'),ln(1895,1027,1897,1027,'#7a7a7a'),ln(1884,1021.5,1885.5,1023,'#7a7a7a'),ln(1895,1021.5,1893.5,1023,'#7a7a7a'),ln(1884,1032.5,1885.5,1031,'#7a7a7a'),ln(1895,1032.5,1893.5,1031,'#7a7a7a'));
els.push(rect(0,1041,1920,37,'#ffffff'),rect(0,1078,1920,2,'#3c3c3c'));
els.push(rect(0,0,1920,2.5,BLUE),rect(0,0,2.5,1041,BLUE),rect(1918,0,2,1041,BLUE),rect(0,1039,1920,2,BLUE));
[['1D',24],['5D',54],['1M',85],['3M',116],['6M',147],['YTD',182],['1Y',216],['5Y',246],['All',275]].forEach(([t,x])=>els.push(text(x,1061,t,'#131722',13,{textAlign:'center'})));
els.push(ln(300.5,1050,300.5,1072,'#e0e3eb'),ln(1766.5,1050,1766.5,1072,'#e0e3eb'));
els.push(rrect(319,1054,14,14,1,'transparent','#131722'),ln(319,1058.5,333,1058.5,'#131722'),ln(323,1052,323,1056,'#131722'),ln(329,1052,329,1056,'#131722'),rect(316,1061,8,5,'#fff',{z:101}),ln(318,1063.5,326,1063.5,'#131722'));
els.push({type:'polyline',shape:{points:[[323,1061],[326,1063.5],[323,1066]]},style:{stroke:'#131722',fill:null,lineWidth:1},z:102,silent:true});
els.push(text(1751,1061,'11:38:10 (UTC)','#131722',13.8,{textAlign:'right'}));
els.push(text(1790,1061,'%','#131722',13,{textAlign:'center'}),text(1820.5,1061,'log','#131722',13,{textAlign:'center'}),text(1858,1061,'auto','#131722',13,{textAlign:'center'}));
[[[1887,1058],[1887,1053],[1892,1053]],[[1897,1053],[1902,1053],[1902,1058]],[[1902,1064],[1902,1069],[1897,1069]],[[1892,1069],[1887,1069],[1887,1064]]].forEach(p=>els.push({type:'polyline',shape:{points:p},style:{stroke:BLUE,fill:null,lineWidth:1.3},z:101,silent:true}));
chart.setOption({graphic:{elements:els}});
</script></body></html>
